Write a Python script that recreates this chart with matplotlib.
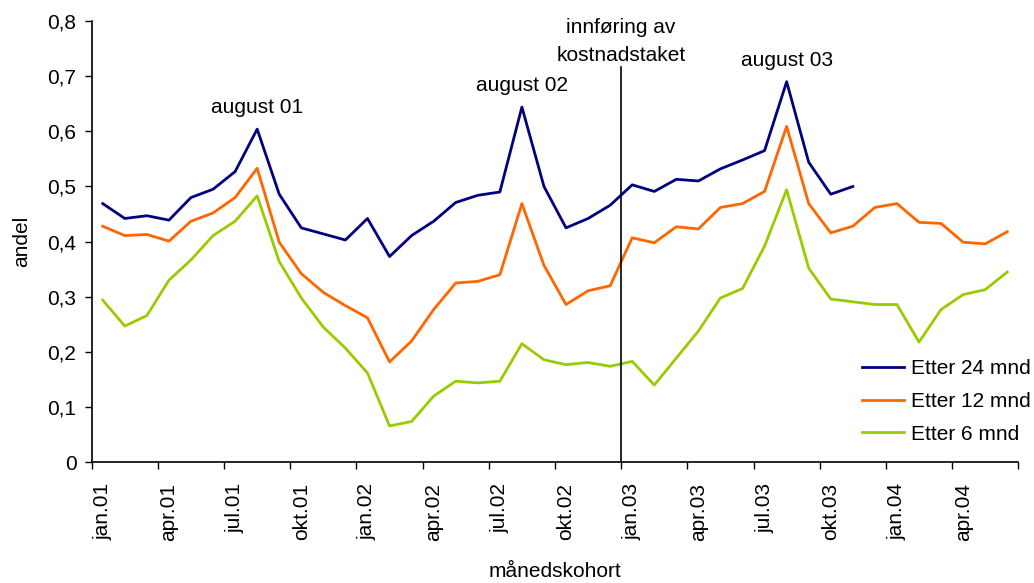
import matplotlib
matplotlib.use("Agg")
import matplotlib.pyplot as plt
import numpy as np

# månedskohorter jan.01 - jun.04
maaneder = ["jan", "feb", "mar", "apr", "mai", "jun", "jul", "aug", "sep", "okt", "nov", "des"]
kohorter = [f"{m}.{aar:02d}" for aar in (1, 2, 3, 4) for m in maaneder][:42]

etter_24 = [0.469, 0.442, 0.447, 0.439, 0.480, 0.495, 0.527, 0.604, 0.486, 0.425, 0.414, 0.403,
            0.442, 0.373, 0.411, 0.437, 0.471, 0.484, 0.490, 0.644, 0.500, 0.425, 0.442, 0.466,
            0.503, 0.491, 0.513, 0.510, 0.532, 0.548, 0.565, 0.690, 0.544, 0.486, 0.500]
etter_12 = [0.428, 0.411, 0.413, 0.401, 0.437, 0.452, 0.480, 0.533, 0.399, 0.342, 0.308, 0.284,
            0.262, 0.182, 0.220, 0.277, 0.325, 0.328, 0.340, 0.469, 0.357, 0.286, 0.311, 0.320,
            0.407, 0.398, 0.427, 0.423, 0.462, 0.469, 0.491, 0.609, 0.469, 0.416, 0.428, 0.462,
            0.469, 0.435, 0.433, 0.399, 0.396, 0.418]
etter_6 = [0.294, 0.247, 0.266, 0.330, 0.367, 0.411, 0.437, 0.483, 0.364, 0.298, 0.245, 0.207,
           0.162, 0.066, 0.074, 0.120, 0.147, 0.144, 0.147, 0.215, 0.186, 0.177, 0.181, 0.174,
           0.183, 0.140, 0.189, 0.238, 0.298, 0.315, 0.392, 0.494, 0.352, 0.296, 0.291, 0.286,
           0.286, 0.218, 0.277, 0.304, 0.313, 0.345]

plt.rcParams['font.family'] = ['Liberation Sans', 'DejaVu Sans']
fs = 15

fig = plt.figure(figsize=(10.34, 5.83), dpi=100)
ax = fig.add_axes([0.0887, 0.207, 0.8961, 0.757])

ax.plot(range(len(etter_24)), etter_24, color='#000080', lw=2, label='Etter 24 mnd')
ax.plot(range(len(etter_12)), etter_12, color='#FF6600', lw=2, label='Etter 12 mnd')
ax.plot(range(len(etter_6)), etter_6, color='#99CC00', lw=2, label='Etter 6 mnd')

# innføring av kostnadstaket mellom des.02 og jan.03
ax.plot([23.5, 23.5], [0, 0.716], color='black', lw=1.2)
ax.text(23.5, 0.72, 'innføring av\nkostnadstaket', ha='center', va='bottom',
        fontsize=fs, linespacing=1.6)

for i, tekst in [(7, 'august 01'), (19, 'august 02'), (31, 'august 03')]:
    ax.text(i, etter_24[i] + 0.022, tekst, ha='center', va='bottom', fontsize=fs)

ax.set_xlim(-0.5, 41.5)
ax.set_ylim(0, 0.8)
ax.set_yticks(np.arange(0, 0.81, 0.1))
ax.set_yticklabels(['0'] + [f"0,{k}" for k in range(1, 9)], fontsize=fs)
ax.set_xticks(np.arange(-0.5, 42, 3))
ax.set_xticklabels([])
ax.set_xticks(np.arange(0, 42, 3), minor=True)
ax.set_xticklabels([kohorter[k] for k in range(0, 42, 3)], minor=True,
                   rotation=90, fontsize=fs, va='top', ha='center')
ax.tick_params(axis='x', which='minor', length=0, pad=15)
ax.tick_params(axis='both', which='major', length=5, width=1, direction='out')
ax.tick_params(axis='y', pad=6)

for s in ['top', 'right']:
    ax.spines[s].set_visible(False)
ax.spines['left'].set_linewidth(1.2)
ax.spines['bottom'].set_linewidth(1.2)

ax.set_ylabel('andel', fontsize=fs, labelpad=12)
ax.set_xlabel('månedskohort', fontsize=fs, labelpad=15)

ax.legend(loc='lower right', bbox_to_anchor=(1.034, 0.0), frameon=False, fontsize=fs,
          handlelength=2.0, handletextpad=0.35, labelspacing=0.65)

fig.savefig('out.png', dpi=100)
